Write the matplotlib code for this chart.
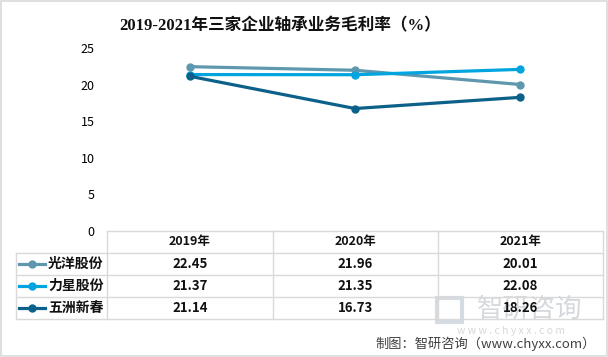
import matplotlib.pyplot as plt
from matplotlib.lines import Line2D
from matplotlib.patches import Rectangle

plt.rcParams["font.family"] = ["Noto Sans CJK SC", "DejaVu Sans"]

W, H = 608, 357

years = ["2019年", "2020年", "2021年"]
companies = ["光洋股份", "力星股份", "五洲新春"]
guangyang = [22.45, 21.96, 20.01]
lixing = [21.37, 21.35, 22.08]
wuzhou = [21.14, 16.73, 18.26]
series = [guangyang, lixing, wuzhou]
colors = ["#5f97ae", "#00a5e0", "#0b6189"]
yticks = [0, 5, 10, 15, 20, 25]


def fx(px):
    return px / W


def fy(py):
    return 1 - py / H


fig = plt.figure(figsize=(W / 100, H / 100), dpi=100)

# chart area
x0, x1, ytop, ybot = 107, 603, 48, 231
ax = fig.add_axes([fx(x0), fy(ybot), fx(x1) - fx(x0), fy(ytop) - fy(ybot)])
for vals, c in zip(series, colors):
    ax.plot(range(len(years)), vals, color=c, lw=2.3, marker="o", ms=5,
            solid_capstyle="round")
ax.set_xlim(-0.5, len(years) - 0.5)
ax.set_ylim(0, 25)
ax.set_yticks(yticks)
ax.tick_params(axis="y", length=0, pad=9, labelsize=9, labelcolor="#000000")
ax.set_xticks([])
for s in ax.spines.values():
    s.set_visible(False)
ax.patch.set_alpha(0)

fig.text(fx(280), fy(26), "2019-2021年三家企业轴承业务毛利率（%）", ha="center", va="center",
         fontsize=12, fontweight="bold", color="#111111",
         family=["Liberation Serif", "Noto Sans CJK SC"])

# data table drawn under the chart
grid_c = "#d9d9d9"
col_edges = [107, 273, 438, 603]
row_edges = [231, 253, 275, 297, 319]
lines = []
for i, ry in enumerate(row_edges):
    left = 107 if i == 0 else 16
    lines.append(([fx(left), fx(603)], [fy(ry), fy(ry)]))
for cx in col_edges:
    lines.append(([fx(cx), fx(cx)], [fy(231), fy(319)]))
lines.append(([fx(16), fx(16)], [fy(253), fy(319)]))
for xs, ys in lines:
    fig.add_artist(Line2D(xs, ys, color=grid_c, lw=1))

for j, yr in enumerate(years):
    cx = (col_edges[j] + col_edges[j + 1]) / 2
    fig.text(fx(cx), fy(242), yr, ha="center", va="center", fontsize=9,
             fontweight="bold", color="#111111")

# watermark (behind the table text, as in the source image)
fig.add_artist(Rectangle((fx(437), fy(322)), fx(25), fy(298) - fy(322),
                         facecolor="none", edgecolor="#d5dbe3", lw=3, zorder=0))
fig.text(fx(530), fy(309), "智研咨询", ha="center", va="center", fontsize=19,
         color="#d5d8dc", zorder=0)
fig.text(fx(511), fy(331), "w w w . c h y x x . c o m", ha="center", va="center",
         fontsize=7.5, color="#d5d8dc", zorder=0)

for i, (name, vals, c) in enumerate(zip(companies, series, colors)):
    cy = (row_edges[i + 1] + row_edges[i + 2]) / 2
    fig.add_artist(Line2D([fx(19), fx(45)], [fy(cy), fy(cy)], color=c, lw=2.3))
    fig.add_artist(Line2D([fx(32)], [fy(cy)], color=c, marker="o", ms=5))
    fig.text(fx(48), fy(cy), name, ha="left", va="center", fontsize=10,
             fontweight="bold", color="#111111")
    for j, v in enumerate(vals):
        cx = (col_edges[j] + col_edges[j + 1]) / 2
        fig.text(fx(cx), fy(cy), f"{v:.2f}", ha="center", va="center",
                 fontsize=9.5, fontweight="bold", color="#111111", zorder=3)

fig.text(fx(596), fy(344), "制图：智研咨询（www.chyxx.com）", ha="right", va="center",
         fontsize=9.5, color="#404040")

# outer border
fig.add_artist(Rectangle((0.001, 0.002), 0.997, 0.995, facecolor="none",
                         edgecolor="#d9d9d9", lw=1.2, transform=fig.transFigure))

fig.savefig("out.png", dpi=100)
